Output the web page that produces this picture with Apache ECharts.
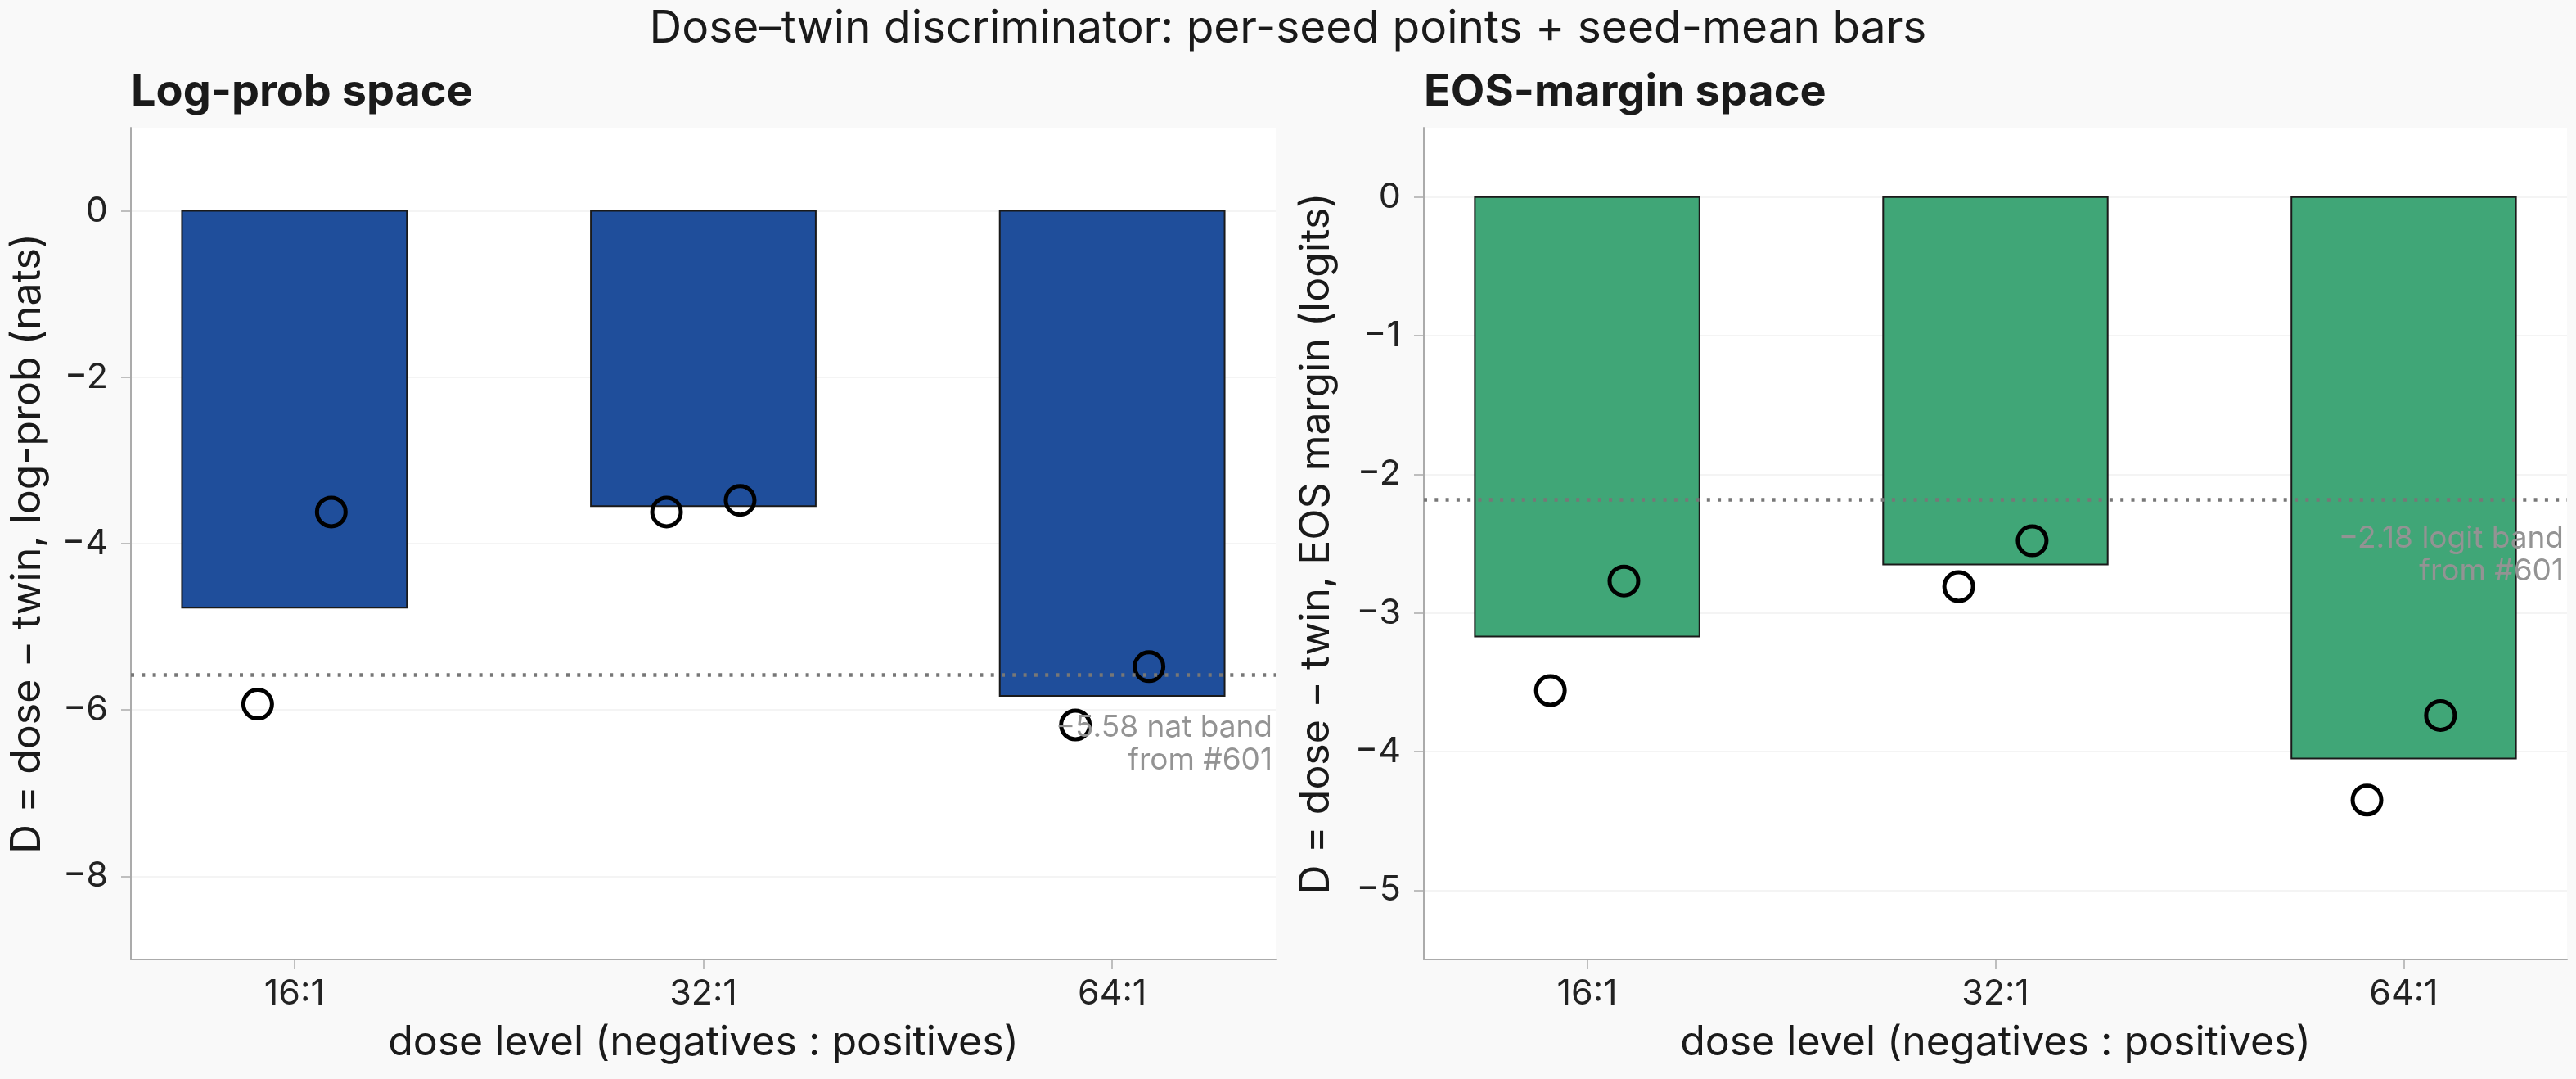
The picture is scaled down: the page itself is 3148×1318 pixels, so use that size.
<!DOCTYPE html>
<html>
<head>
<meta charset="utf-8">
<script src="https://cdn.jsdelivr.net/npm/echarts@6/dist/echarts.min.js"></script>
<style>
html, body { margin: 0; padding: 0; background: #f9f9f9; }
#chart { width: 3148px; height: 1318px; }
</style>
</head>
<body>
<div id="chart"></div>
<script>
var doses = ['16:1', '32:1', '64:1'];
var doseTicks = [0, 1, 2];

// log-prob space (nats)
var lpMean = [-4.77, -3.55, -5.83];
var lpSeedA = [-5.93, -3.62, -6.18];
var lpSeedB = [-3.62, -3.48, -5.48];
var lpBand = -5.58;
var lpTicks = [-8, -6, -4, -2, 0];

// EOS-margin space (logits)
var eosMean = [-3.17, -2.65, -4.05];
var eosSeedA = [-3.56, -2.81, -4.35];
var eosSeedB = [-2.77, -2.48, -3.74];
var eosBand = -2.18;
var eosTicks = [-5, -4, -3, -2, -1, 0];

var FONT = 'Inter';
var BAR_W = 0.55;
var JIT = 0.09;
var AXIS_GREY = '#ababab';

function minus(v) {
    return String(v).replace('-', '\u2212');
}

function barSeries(idx, means, color) {
    return {
        type: 'custom',
        xAxisIndex: idx,
        yAxisIndex: idx,
        z: 2,
        encode: {x: 0, y: 1},
        data: means.map(function (m, i) { return [i, m]; }),
        renderItem: function (params, api) {
            var x = api.value(0), y = api.value(1);
            var p0 = api.coord([x - BAR_W / 2, 0]);
            var p1 = api.coord([x + BAR_W / 2, y]);
            return {
                type: 'rect',
                shape: {
                    x: p0[0],
                    y: Math.min(p0[1], p1[1]),
                    width: p1[0] - p0[0],
                    height: Math.abs(p1[1] - p0[1])
                },
                style: {fill: color, stroke: '#1a1a1a', lineWidth: 2}
            };
        }
    };
}

function bandSeries(idx, band, text, dist) {
    return {
        type: 'line',
        xAxisIndex: idx,
        yAxisIndex: idx,
        data: [],
        z: 3,
        markLine: {
            silent: true,
            symbol: 'none',
            animation: false,
            lineStyle: {color: '#777777', width: 4.5, type: [4, 9.3]},
            label: {
                show: true,
                position: 'insideEndBottom',
                formatter: text,
                color: '#939393',
                fontFamily: FONT,
                fontSize: 37,
                lineHeight: 40,
                align: 'right',
                distance: dist
            },
            data: [{yAxis: band}]
        }
    };
}

function seedSeries(idx, a, b) {
    var pts = [];
    a.forEach(function (v, i) { pts.push([i - JIT, v]); });
    b.forEach(function (v, i) { pts.push([i + JIT, v]); });
    return {
        type: 'scatter',
        xAxisIndex: idx,
        yAxisIndex: idx,
        z: 4,
        data: pts,
        symbol: 'circle',
        symbolSize: 35,
        itemStyle: {color: 'rgba(0,0,0,0)', borderColor: '#000', borderWidth: 5, opacity: 1}
    };
}

function xAx(idx) {
    return {
        type: 'value',
        gridIndex: idx,
        min: -0.4,
        max: 2.4,
        name: 'dose level (negatives : positives)',
        nameLocation: 'middle',
        nameGap: 77,
        nameTextStyle: {fontFamily: FONT, fontSize: 50, color: '#1a1a1a'},
        axisLine: {show: true, onZero: false, lineStyle: {color: AXIS_GREY, width: 2}},
        axisTick: {show: true, length: 12, customValues: doseTicks, lineStyle: {color: AXIS_GREY, width: 1.5}},
        axisLabel: {
            customValues: doseTicks,
            formatter: function (v) { return doses[Math.round(v)]; },
            margin: 21,
            fontFamily: FONT,
            fontSize: 43,
            color: '#222'
        },
        splitLine: {show: false}
    };
}

function yAx(idx, lo, hi, ticks, name, gap) {
    return {
        type: 'value',
        gridIndex: idx,
        min: lo,
        max: hi,
        name: name,
        nameLocation: 'middle',
        nameGap: gap,
        nameRotate: 90,
        nameTextStyle: {fontFamily: FONT, fontSize: 50, color: '#1a1a1a'},
        axisLine: {show: true, onZero: false, lineStyle: {color: AXIS_GREY, width: 2}},
        axisTick: {show: true, length: 12, customValues: ticks, lineStyle: {color: AXIS_GREY, width: 1.5}},
        axisLabel: {customValues: ticks, formatter: minus, margin: 28, fontFamily: FONT, fontSize: 43, color: '#222'},
        splitLine: {show: true, lineStyle: {color: '#f1f1f1', width: 1.5}}
    };
}

var chart = echarts.init(document.getElementById('chart'), null, {renderer: 'canvas'});
chart.setOption({
    backgroundColor: '#f9f9f9',
    animation: false,
    title: [
        {
            text: 'Dose\u2013twin discriminator: per-seed points + seed-mean bars',
            left: 'center',
            top: 8,
            padding: 0,
            textStyle: {fontFamily: FONT, fontSize: 55, fontWeight: 'normal', color: '#1a1a1a'}
        },
        {
            text: 'Log-prob space',
            left: 160,
            top: 86,
            padding: 0,
            textStyle: {fontFamily: FONT, fontSize: 54, fontWeight: 'bold', color: '#1a1a1a'}
        },
        {
            text: 'EOS-margin space',
            left: 1740,
            top: 86,
            padding: 0,
            textStyle: {fontFamily: FONT, fontSize: 54, fontWeight: 'bold', color: '#1a1a1a'}
        }
    ],
    grid: [
        {left: 160, right: 1589, top: 156, bottom: 146, show: true, backgroundColor: '#fff', borderWidth: 0, outerBoundsMode: 'none'},
        {left: 1740, right: 11, top: 156, bottom: 146, show: true, backgroundColor: '#fff', borderWidth: 0, outerBoundsMode: 'none'}
    ],
    xAxis: [xAx(0), xAx(1)],
    yAxis: [
        yAx(0, -9, 1, lpTicks, 'D = dose \u2212 twin, log-prob (nats)', 101),
        yAx(1, -5.5, 0.5, eosTicks, 'D = dose \u2212 twin, EOS margin (logits)', 106)
    ],
    series: [
        barSeries(0, lpMean, '#1f4e9b'),
        bandSeries(0, lpBand, '\u22125.58 nat band\nfrom #601', [4, 44]),
        seedSeries(0, lpSeedA, lpSeedB),
        barSeries(1, eosMean, '#40a677'),
        bandSeries(1, eosBand, '\u22122.18 logit band\nfrom #601', [4, 28]),
        seedSeries(1, eosSeedA, eosSeedB)
    ]
});
</script>
</body>
</html>
